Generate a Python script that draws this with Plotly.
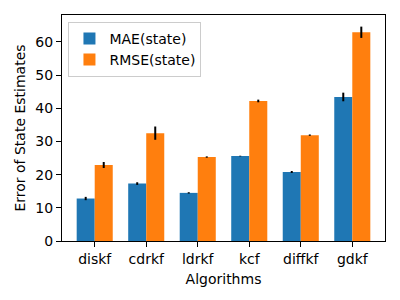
import plotly.graph_objects as go

algorithms = ["diskf", "cdrkf", "ldrkf", "kcf", "diffkf", "gdkf"]
mae_state = [12.8, 17.3, 14.5, 25.6, 20.8, 43.4]
mae_err = [0.5, 0.4, 0.2, 0.1, 0.3, 1.3]
rmse_state = [22.9, 32.5, 25.3, 42.2, 31.9, 62.9]
rmse_err = [0.9, 2.0, 0.2, 0.4, 0.2, 1.7]

fig = go.Figure()
fig.add_trace(go.Bar(
    x=algorithms, y=mae_state, name="MAE(state)", marker=dict(color="#1f77b4", line=dict(width=0)),
    error_y=dict(type="data", array=mae_err, color="black", thickness=2, width=0),
))
fig.add_trace(go.Bar(
    x=algorithms, y=rmse_state, name="RMSE(state)", marker=dict(color="#ff7f0e", line=dict(width=0)),
    error_y=dict(type="data", array=rmse_err, color="black", thickness=2, width=0),
))

font = "DejaVu Sans"
# page body has an 8px default margin, so margins are shifted by 8px
fig.update_layout(
    width=400, height=300,
    margin=dict(l=54, r=23, t=7, b=67, autoexpand=False),
    paper_bgcolor="white", plot_bgcolor="white",
    barmode="group", bargap=0.3, bargroupgap=0,
    font=dict(family=font, size=14, color="black"),
    showlegend=True,
    legend=dict(x=0.02, y=0.97, xanchor="left", yanchor="top",
                bgcolor="rgba(255,255,255,0.8)", bordercolor="#cccccc", borderwidth=1,
                font=dict(size=14), tracegroupgap=2),
)
fig.update_xaxes(
    type="category", range=[-0.635, 5.635], automargin=False,
    showline=True, linecolor="black", linewidth=1, mirror=True,
    ticks="outside", ticklen=5, tickcolor="black", showgrid=False,
    title=dict(text="Algorithms", font=dict(size=14), standoff=8),
)
fig.update_yaxes(
    range=[0, 68.1], tickvals=[0, 10, 20, 30, 40, 50, 60], automargin=False,
    showline=True, linecolor="black", linewidth=1, mirror=True,
    ticks="outside", ticklen=5, tickcolor="black", showgrid=False, zeroline=False,
    title=dict(text="Error of State Estimates", font=dict(size=14), standoff=6),
)
fig.write_html("out.html")
